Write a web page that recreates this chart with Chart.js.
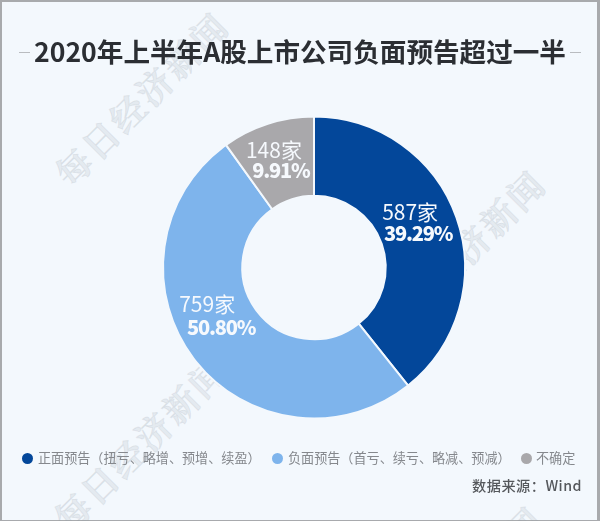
<!DOCTYPE html>
<html>
<head>
<meta charset="utf-8">
<script src="https://cdn.jsdelivr.net/npm/chart.js@4"></script>
<style>
  html, body { margin: 0; padding: 0; }
  body { width: 600px; height: 521px; overflow: hidden; font-family: 'Noto Sans CJK SC', sans-serif; }
  #frame { position: absolute; left: 0; top: 0; width: 595px; height: 518px; background: #f3f8fd; border: 2px solid #a8aaad; border-right-width: 3px; border-bottom-width: 1px; }
  #watermarks { position: absolute; left: 0; top: 0; width: 600px; height: 521px; overflow: hidden; }
  #chart { position: absolute; left: 0; top: 0; }
  .txt { position: absolute; white-space: nowrap; }
  #title { left: 0; width: 600px; top: 31px; text-align: center; font-size: 26.6px; line-height: 40px; font-weight: 700; color: #2b2e33; }
  .rule { position: absolute; top: 52px; width: 11px; height: 1px; background: #b9bcc0; }
  .dot { position: absolute; top: 453px; width: 11px; height: 11px; border-radius: 50%; }
  .leg { top: 448px; font-size: 13.1px; line-height: 20px; color: #85888d; }
  #source { right: 18px; top: 475px; font-size: 14.2px; line-height: 20px; font-weight: 500; color: #55585c; letter-spacing: 0.5px; }
  .wm { position: absolute; font-size: 35px; line-height: 40px; font-weight: 700; color: rgba(150,160,170,0.17); -webkit-text-stroke: 1px rgba(150,160,170,0.17); transform: translate(-50%,-50%) rotate(-45deg); white-space: nowrap; font-family: 'Noto Serif CJK SC','Noto Sans CJK SC',sans-serif; letter-spacing: 3px; }
</style>
</head>
<body>
<div id="frame"></div>
<div id="watermarks"></div>
<canvas id="chart" width="600" height="521"></canvas>
<div class="rule" style="left:19px"></div>
<div class="rule" style="left:570px"></div>
<div class="txt" id="title"></div>
<div id="legend"></div>
<div class="txt" id="source"></div>
<script>
const categories = ['正面预告（扭亏、略增、预增、续盈）', '负面预告（首亏、续亏、略减、预减）', '不确定'];
const companyCounts = [587, 759, 148];
const countLabels = ['587家', '759家', '148家'];
const percentLabels = ['39.29%', '50.80%', '9.91%'];
const sliceColors = ['#03479a', '#7eb4ec', '#a9a8ab'];
const titleText = '2020年上半年A股上市公司负面预告超过一半';
const sourceText = '数据来源：Wind';

// label offsets from each slice's centre point
const countOffsets = [[-9, -19], [-18, -31], [-6, -11]];
const percentOffsets = [[-1, 3], [-4, -7], [1, 9]];
const legendDots = [22, 272, 521];
const legendLefts = [38, 288, 536];

document.getElementById('title').textContent = titleText;
document.getElementById('source').textContent = sourceText;

const legendEl = document.getElementById('legend');
categories.forEach((name, i) => {
  const dot = document.createElement('div');
  dot.className = 'dot';
  dot.style.left = legendDots[i] + 'px';
  dot.style.background = sliceColors[i];
  legendEl.appendChild(dot);
  const label = document.createElement('div');
  label.className = 'txt leg';
  label.style.left = legendLefts[i] + 'px';
  label.textContent = name;
  legendEl.appendChild(label);
});

// faint agency watermark
[[141, 98], [458, 256], [140, 443], [456, 592]].forEach(p => {
  const w = document.createElement('div');
  w.className = 'wm';
  w.style.left = p[0] + 'px';
  w.style.top = p[1] + 'px';
  w.textContent = '每日经济新闻';
  document.getElementById('watermarks').appendChild(w);
});

const sliceLabels = {
  id: 'sliceLabels',
  afterDatasetsDraw(chart) {
    const ctx = chart.ctx;
    ctx.save();
    ctx.fillStyle = '#f6f9fd';
    ctx.textAlign = 'center';
    ctx.textBaseline = 'middle';
    chart.getDatasetMeta(0).data.forEach((arc, i) => {
      const c = arc.getCenterPoint();
      ctx.letterSpacing = '0px';
      ctx.font = "400 21px 'Noto Sans CJK SC', sans-serif";
      ctx.fillText(countLabels[i], c.x + countOffsets[i][0], c.y + countOffsets[i][1]);
      ctx.letterSpacing = '-1.2px';
      ctx.font = "900 20px 'Noto Sans CJK SC', sans-serif";
      ctx.fillText(percentLabels[i], c.x + percentOffsets[i][0], c.y + percentOffsets[i][1]);
    });
    ctx.restore();
  }
};

new Chart(document.getElementById('chart').getContext('2d'), {
  type: 'doughnut',
  data: {
    labels: categories,
    datasets: [{
      data: companyCounts,
      backgroundColor: sliceColors,
      borderColor: '#f3f8fd',
      borderWidth: 2,
      borderAlign: 'center'
    }]
  },
  options: {
    responsive: false,
    animation: false,
    cutout: '47.5%',
    layout: { padding: { left: 162, right: 134, top: 115.5, bottom: 101.5 } },
    plugins: { legend: { display: false }, tooltip: { enabled: false } }
  },
  plugins: [sliceLabels]
});
</script>
</body>
</html>
